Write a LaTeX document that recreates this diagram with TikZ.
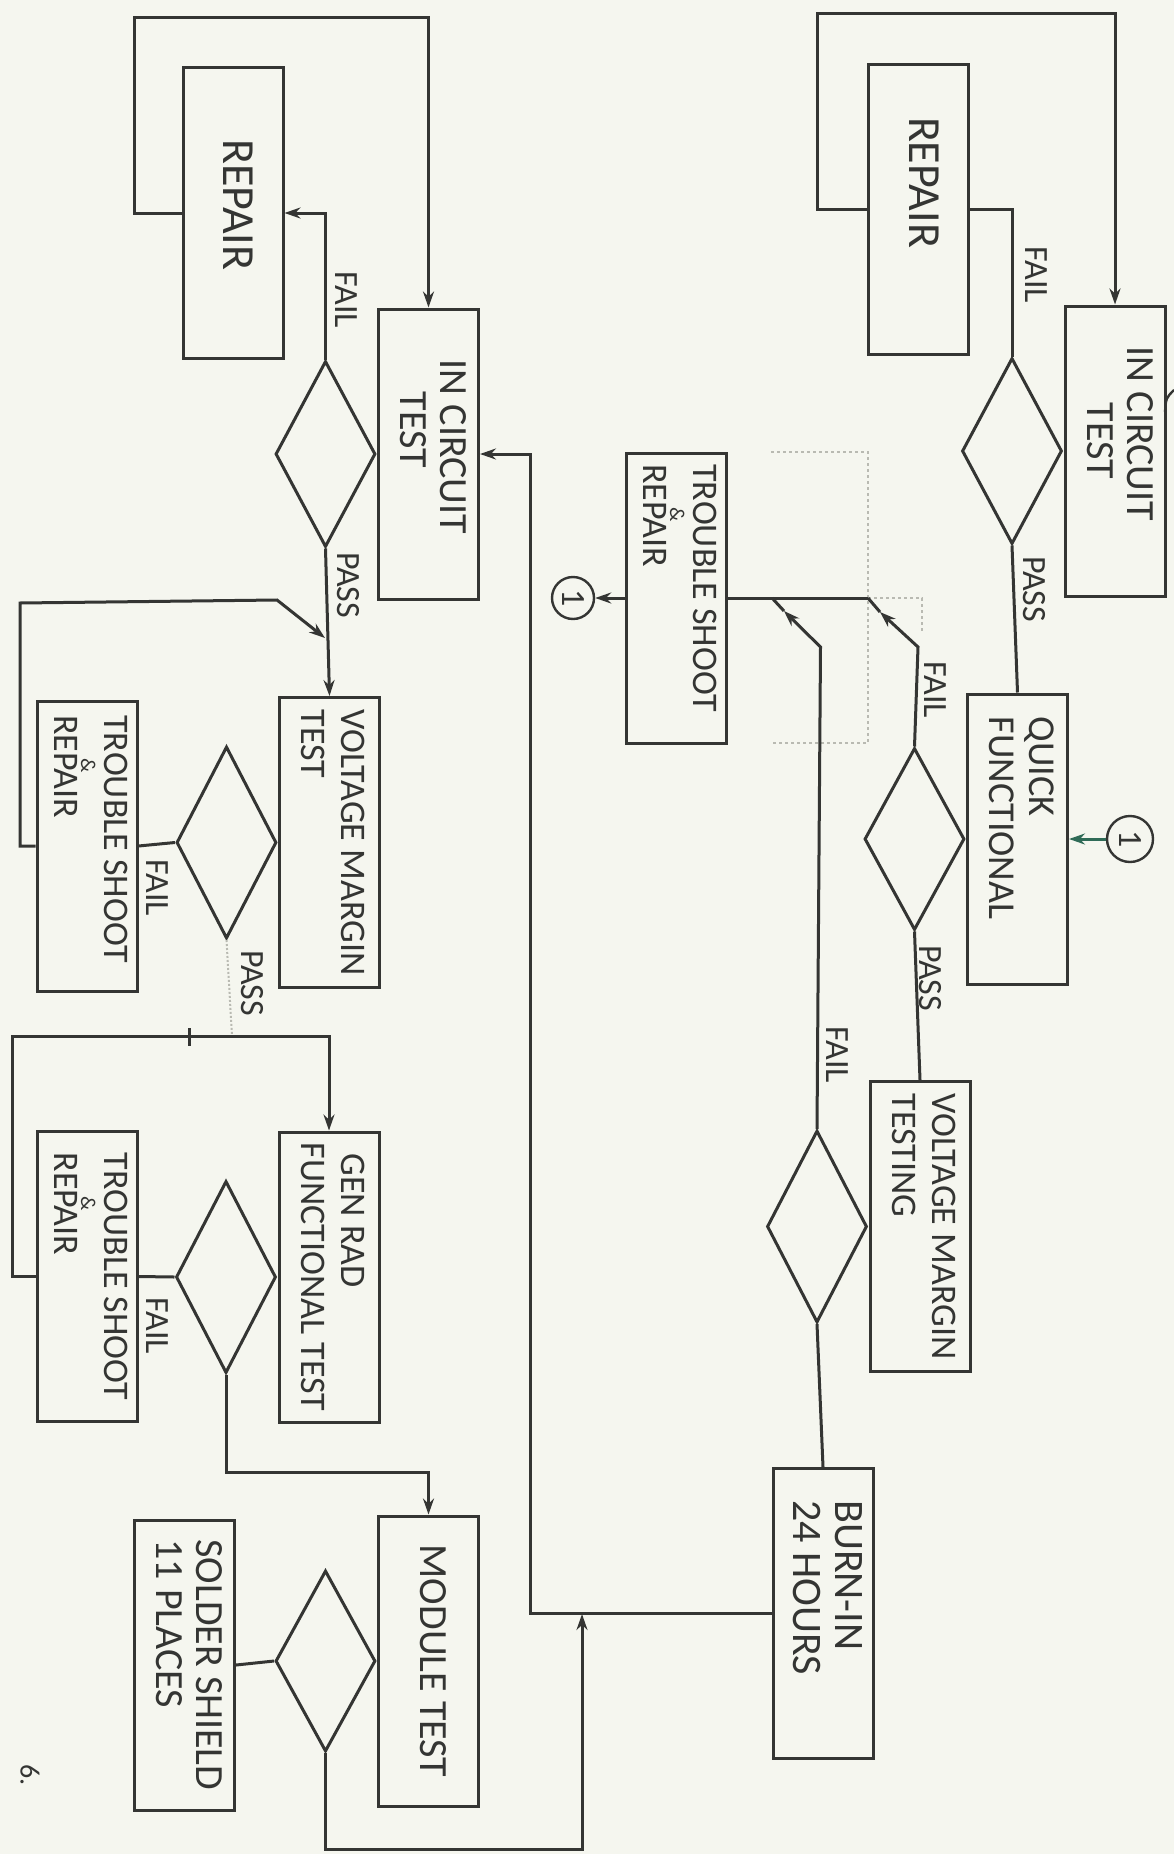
\documentclass[tikz,border=0pt]{standalone}
\usepackage{fontspec}
\setmainfont{Carlito}
\usetikzlibrary{shapes.geometric,arrows.meta}
\definecolor{ink}{HTML}{343533}
\definecolor{paper}{HTML}{F5F6EF}
\definecolor{faint}{HTML}{B9BAB2}
\definecolor{tealink}{HTML}{2F6B57}
\newcommand{\boxfont}{\fontsize{36}{40}\selectfont}
\newcommand{\bigboxfont}{\fontsize{40}{40}\selectfont}
\newcommand{\tagfont}{\fontsize{34}{34}\selectfont}
\newcommand{\sidetext}[1]{\rotatebox{-90}{\begin{tabular}{@{}l@{}}#1\end{tabular}}}
\newcommand{\andmark}{\smash{\makebox[0pt][l]{\hspace{1.2em}\raisebox{27pt}{\fontsize{21}{21}\selectfont\&}}}}
\begin{document}
\begin{tikzpicture}[x=1pt, y=-1pt, >={Stealth[length=16pt, width=11pt]}, line width=3pt, color=ink,
    box/.style={draw, minimum width=100pt, minimum height=290pt, inner sep=0pt, font=\boxfont},
    choice/.style={draw, diamond, minimum width=100pt, minimum height=186pt, inner sep=0pt, anchor=east},
    tag/.style={inner sep=0pt, font=\tagfont},
    conn/.style={draw, circle, minimum size=42pt, inner sep=0pt, line width=2.4pt, font=\tagfont}]
    \fill[paper] (0,0) rectangle (1174,1854);
    \useasboundingbox (0,0) rectangle (1174,1854);

    % left column
    \node[box, font=\fontsize{46}{46}\selectfont] (rep1) at (233,213) {\sidetext{REPAIR\kern16pt}};
    \node[box, font=\bigboxfont] (ict1) at (428.5,454) {\sidetext{IN CIRCUIT\kern14pt\\\hspace{0.8em}TEST}};
    \node[choice] (d1) at (ict1.west) {};
    \node[box] (vmt1) at (329.5,842.5) {\sidetext{VOLTAGE MARGIN\\TEST}};
    \node[choice, minimum height=192pt] (d2) at (vmt1.west) {};
    \node[box] (tsr1) at (87,846) {\sidetext{TROUBLE SHOOT\kern14pt\\[10pt]\andmark REPAIR}};
    \node[box] (gen) at (329,1277) {\sidetext{\hspace{0.3em}GEN RAD\\FUNCTIONAL TEST}};
    \node[choice, minimum height=192pt] (d3) at (gen.west) {};
    \node[box] (tsr2) at (87,1276.5) {\sidetext{TROUBLE SHOOT\\[10pt]\andmark REPAIR}};
    \node[box, font=\bigboxfont] (mod) at (428.5,1661) {\sidetext{MODULE TEST}};
    \node[choice, minimum height=181pt] (d4) at (mod.west) {};
    \node[box, font=\bigboxfont] (sol) at (184.5,1665) {\sidetext{SOLDER SHIELD\\11 PLACES}};

    % right column
    \node[box, font=\fontsize{46}{46}\selectfont] (rep2) at (918.5,209.5) {\sidetext{REPAIR\kern54pt}};
    \node[box, font=\bigboxfont] (ict2) at (1115,451) {\sidetext{IN CIRCUIT\kern34pt\\\hspace{1.4em}TEST}};
    \node[choice] (d7) at (ict2.west) {};
    \node[box, font=\fontsize{38}{40}\selectfont] (qf) at (1017.5,839) {\sidetext{QUICK\\FUNCTIONAL\kern42pt}};
    \node[choice, minimum height=182pt] (d6) at (qf.west) {};
    \node[box] (vmt2) at (920,1226.5) {\sidetext{VOLTAGE MARGIN\\TESTING}};
    \node[choice, minimum height=192pt] (d5) at (vmt2.west) {};
    \node[box, font=\fontsize{42}{42}\selectfont] (burn) at (823,1613.5) {\sidetext{BURN-IN\\24 HOURS\kern52pt}};
    \node[box] (tsr3) at (676,598) {\sidetext{TROUBLE SHOOT\kern20pt\\[10pt]\andmark REPAIR}};
    \node[conn] (oneA) at (573,598) {\rotatebox{-90}{1}};
    \node[conn, minimum size=46pt] (oneB) at (1130,839) {\rotatebox{-90}{1}};

    % branch labels
    \node[tag] (f1) at (346,300) {\rotatebox{-90}{FAIL}};
    \node[tag] (p1) at (348,585) {\rotatebox{-90}{PASS}};
    \node[tag] (f2) at (157,888) {\rotatebox{-90}{FAIL}};
    \node[tag] (p2) at (252,983) {\rotatebox{-90}{PASS}};
    \node[tag] (f3) at (157,1326) {\rotatebox{-90}{FAIL}};
    \node[tag] (f7) at (1036,275) {\rotatebox{-90}{FAIL}};
    \node[tag] (p7) at (1034,589) {\rotatebox{-90}{PASS}};
    \node[tag] (f6) at (935,690) {\rotatebox{-90}{FAIL}};
    \node[tag] (p6) at (930,978) {\rotatebox{-90}{PASS}};
    \node[tag] (f5) at (837,1055) {\rotatebox{-90}{FAIL}};
    \node[tag, font=\fontsize{28}{28}\selectfont] (page) at (30,1775) {\rotatebox{-90}{6.}};

    % corner points
    \coordinate (lt1) at (134,18);
    \coordinate (lt2) at (20,603);
    \coordinate (lt3) at (277,600);
    \coordinate (lt4) at (325,638);
    \coordinate (lt5) at (232,1036);
    \coordinate (lt6) at (12,1036);
    \coordinate (lt7) at (428.5,1472);
    \coordinate (lt8) at (582,1849);
    \coordinate (lt9) at (582,1614);
    \coordinate (lt10) at (530,1613.5);
    \coordinate (rt1) at (817,14);
    \coordinate (rt2) at (918,647);
    \coordinate (rt3) at (880,612);
    \coordinate (rt4) at (868,598);
    \coordinate (rt5) at (820.5,647);
    \coordinate (rt6) at (784,611);
    \coordinate (rt7) at (772,598);

    % faint paste-up marks
    \draw[faint, line width=1.2pt, dashed] (771,452) -- (868,452) -- (868,743) -- (773,743);
    \draw[faint, line width=1.2pt, dashed] (868,598) -- (922,598) -- (922,632);

    % left column flow
    \draw[->] (rep1.west) -| (lt1) -| (ict1.north);
    \draw[->] (d1.north) |- (rep1.east);
    \draw[->] (d1.south) -- (vmt1.north);
    \draw[->] (tsr1.west) -| (lt2) -- (lt3) -- (lt4);
    \draw (d2.west) -- (tsr1.east);
    \draw[faint, line width=2pt, dotted] (d2.south) -- (lt5);
    \draw[->] (tsr2.west) -| (lt6) -| (gen.north);
    \draw (189,1028) -- (189,1046);
    \draw (d3.west) -- (tsr2.east);
    \draw[->] (d3.south) |- (lt7) -- (mod.north);
    \draw (d4.west) -- (sol.east);
    \draw[->] (d4.south) |- (lt8) -- (lt9);
    \draw[->] (burn.west) -- (lt10) |- (ict1.east);

    % right column flow
    \draw[->] (rep2.west) -| (rt1) -| (ict2.north);
    \draw (d7.north) |- (rep2.east);
    \draw (d7.south) -- (qf.north);
    \draw (d6.south) -- (vmt2.north);
    \draw (d5.south) -- (burn.north);
    \draw[->] (d6.north) -- (rt2) -- (rt3);
    \draw (rt3) -- (rt4);
    \draw[->] (d5.north) -- (rt5) -- (rt6);
    \draw (rt6) -- (rt7);
    \draw (rt4) -- (tsr3.east);
    \draw[->] (tsr3.west) -- (oneA);
    \draw[->, tealink] (oneB) -- (qf.east);
    \draw[line width=2.4pt] (1165,412) .. controls (1166,398) .. (1174,390);
\end{tikzpicture}
\end{document}
